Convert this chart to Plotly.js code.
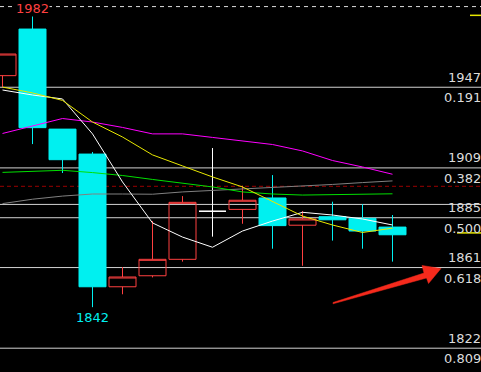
<!DOCTYPE html>
<html>
<head>
<meta charset="utf-8">
<script src="https://cdn.plot.ly/plotly-3.0.1.min.js"></script>
<style>html,body{margin:0;padding:0;background:#000;}#chart{width:481px;height:372px;}</style>
</head>
<body>
<div id="chart"></div>
<script>
// ---- data ----
const bars   = [0,1,2,3,4,5,6,7,8,9,10,11,12,13];
const open   = [1953.3,1975.7,1927.6,1915.6,1851.8,1857.1,1865.0,1888.1,1889.0,1894.5,1881.4,1885.5,1884.7,1880.5];
const high   = [1963.7,1982.0,1927.6,1916.6,1861.3,1883.4,1895.4,1918.5,1900.4,1905.5,1888.2,1892.7,1891.5,1886.3];
const low    = [1947.8,1920.4,1906.5,1842.0,1848.2,1856.3,1863.9,1875.9,1882.1,1870.1,1861.9,1874.0,1870.1,1863.9];
const close  = [1963.7,1928.3,1912.9,1851.8,1856.5,1865.0,1892.4,1888.1,1893.4,1881.2,1884.4,1884.0,1878.6,1876.8];

const maWhite   = [1946.4,1944.0,1942.1,1925.3,1902.2,1882.5,1875.7,1870.8,1878.6,1883.4,1887.6,1886.3,1884.4,1881.5];
const maYellow  = [1947.8,1945.0,1941.4,1931.0,1923.8,1915.2,1909.9,1904.6,1899.8,1892.8,1885.8,1881.5,1877.9,1880.0];
const maMagenta = [1925.5,1929.1,1932.7,1931.0,1928.4,1925.3,1925.3,1923.6,1921.9,1920.2,1917.1,1912.5,1909.4,1905.9];
const maGreen   = [1906.8,1907.2,1907.8,1906.7,1905.3,1903.4,1901.7,1899.8,1897.4,1896.4,1895.9,1896.2,1896.3,1896.5];
const maGray    = [1891.8,1893.9,1895.4,1896.4,1896.4,1896.3,1897.4,1898.1,1898.8,1899.3,1900.3,1901.0,1901.9,1902.7];

const fibHigh = 1986.5, fibLow = 1783.5;
const fibRatios = [0.191, 0.382, 0.5, 0.618, 0.809];
const fibRatioLabels = ['0.191','0.382','0.500','0.618','0.809'];
const fibPriceLabels = ['1947','1909','1885','1861','1822'];
const refLine = 1891.4;
const redDashLevel = 1900.1;
const markerTop = 1982.3;
const markerMid = 1877.7;
const highLabel = '1982', lowLabel = '1842';

// ---- build ----
const fibPrice = r => fibHigh - r * (fibHigh - fibLow);
const nonDoji = bars.filter(i => open[i] !== close[i]);
const doji = bars.filter(i => open[i] === close[i]);
const pick = (arr, ids) => ids.map(i => arr[i]);

const RED = '#ff4040', CYAN = '#00f0f0', TXT = '#dcdcdc', FIBC = '#d2d2d2';

const traces = [
  {type:'candlestick', x: pick(bars,nonDoji), open: pick(open,nonDoji), high: pick(high,nonDoji),
   low: pick(low,nonDoji), close: pick(close,nonDoji), whiskerwidth: 0,
   increasing:{line:{color:RED,width:1}, fillcolor:'rgba(0,0,0,0)'},
   decreasing:{line:{color:CYAN,width:1}, fillcolor:CYAN}, hoverinfo:'skip', showlegend:false},
  {type:'candlestick', x: pick(bars,doji), open: pick(open,doji), high: pick(high,doji),
   low: pick(low,doji), close: pick(close,doji), whiskerwidth: 0,
   increasing:{line:{color:'#ffffff',width:1}, fillcolor:'rgba(0,0,0,0)'},
   decreasing:{line:{color:'#ffffff',width:1}, fillcolor:'rgba(0,0,0,0)'}, hoverinfo:'skip', showlegend:false},
];
const ma = [[maGray,'#808080'],[maGreen,'#00e000'],[maMagenta,'#ff00ff'],[maWhite,'#ffffff'],[maYellow,'#e8e800']];
ma.forEach(([vals,col]) => traces.push({type:'scatter', mode:'lines', x:bars, y:vals,
  line:{color:col,width:1}, hoverinfo:'skip', showlegend:false}));

const shapes = [];
fibRatios.forEach(r => shapes.push({type:'line', xref:'paper', x0:0, x1:1, yref:'y', y0:fibPrice(r), y1:fibPrice(r),
  line:{color:FIBC,width:1}, layer:'below'}));
shapes.push({type:'line', xref:'paper', x0:0, x1:1, yref:'y', y0:refLine, y1:refLine, line:{color:FIBC,width:1}, layer:'below'});
shapes.push({type:'line', xref:'paper', x0:0, x1:1, yref:'y', y0:fibHigh, y1:fibHigh, line:{color:'#dddddd',width:1,dash:'4px,4px'}, layer:'below'});
shapes.push({type:'line', xref:'paper', x0:0, x1:1, yref:'y', y0:redDashLevel, y1:redDashLevel, line:{color:'#9a0000',width:1,dash:'4px,3px'}, layer:'below'});
shapes.push({type:'line', xref:'paper', x0:470/481, x1:1, yref:'y', y0:markerTop, y1:markerTop, line:{color:'#e8e800',width:1.5}});
shapes.push({type:'line', xref:'paper', x0:457/481, x1:1, yref:'y', y0:markerMid, y1:markerMid, line:{color:'#e8e800',width:1.5}});
// red arrow (pixel-drawn decoration, converted to paper coordinates)
const P = (x,y) => (x/481).toFixed(4) + ',' + (1 - y/372).toFixed(4);
shapes.push({type:'path', xref:'paper', yref:'paper',
  path: 'M' + P(333,302.5) + ' L' + P(424,273) + ' L' + P(422,265.5) + ' L' + P(441,268.5) +
        ' L' + P(428.5,283.5) + ' L' + P(426.5,278) + ' L' + P(333,303.8) + ' Z',
  fillcolor:'#f52a1c', line:{color:'#f52a1c', width:0.5}});

const font = {family:'DejaVu Sans', size:13, color:TXT};
const annotations = [];
fibRatios.forEach((r,k) => {
  annotations.push({xref:'paper', x:1, xanchor:'right', yref:'y', y:fibPrice(r), yanchor:'middle', yshift:10,
    text:fibPriceLabels[k], showarrow:false, font, borderpad:0, xshift:1});
  annotations.push({xref:'paper', x:1, xanchor:'right', yref:'y', y:fibPrice(r), yanchor:'middle', yshift:-10.5,
    text:fibRatioLabels[k], showarrow:false, font, borderpad:0, xshift:1});
});
const hiIdx = high.indexOf(Math.max(...high));
const loIdx = low.indexOf(Math.min(...low));
annotations.push({x:bars[hiIdx], xref:'x', yref:'paper', y:1, yanchor:'top', text:highLabel, showarrow:false,
  font:{family:'DejaVu Sans', size:13, color:RED}, borderpad:0, bgcolor:'#000'});
annotations.push({x:bars[loIdx], xref:'x', yref:'y', y:low[loIdx], yanchor:'middle', yshift:-10, text:lowLabel, showarrow:false,
  font:{family:'DejaVu Sans', size:13, color:CYAN}, borderpad:0});

const layout = {
  width:481, height:372, margin:{l:0,r:0,t:0,b:0},
  paper_bgcolor:'#000', plot_bgcolor:'#000', showlegend:false,
  boxgap:0.1, boxgroupgap:0,
  xaxis:{range:[-2.5/30, (481-2.5)/30], visible:false, rangeslider:{visible:false}, fixedrange:true},
  yaxis:{range:[1810.83, 1989.67], visible:false, fixedrange:true},
  shapes, annotations
};
Plotly.newPlot('chart', traces, layout, {staticPlot:true, displayModeBar:false});
</script>
</body>
</html>
